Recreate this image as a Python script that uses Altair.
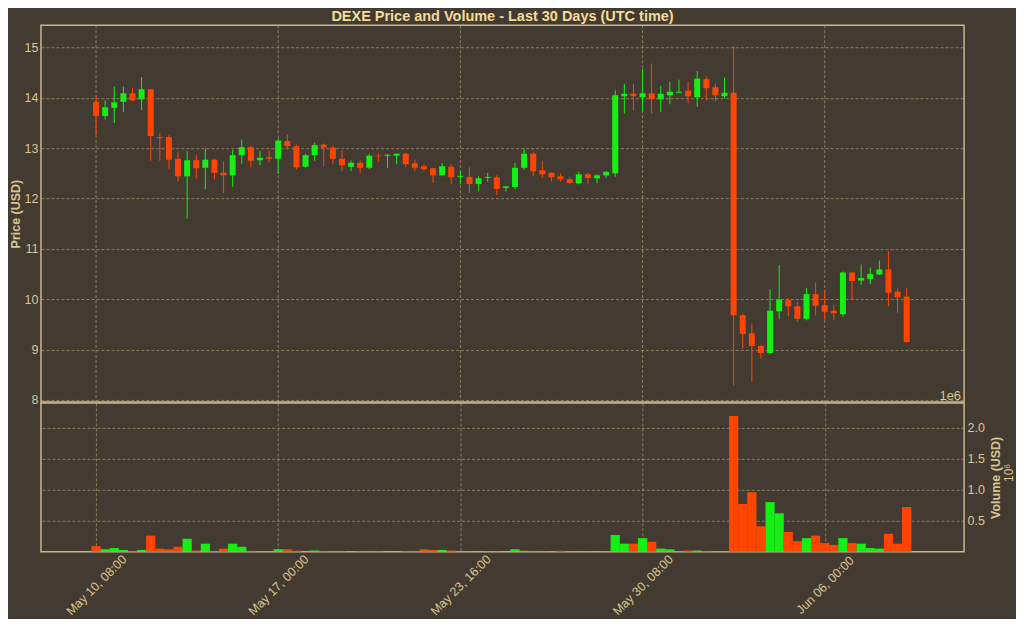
import altair as alt
import pandas as pd

# ---------------- data ----------------
start_time = "2024-05-10 08:00"
opens = [13.92, 13.64, 13.80, 13.92, 14.09, 13.97, 14.17, 13.22, 13.22, 12.79,
         12.44, 12.76, 12.61, 12.77, 12.51, 12.46, 12.86, 13.02, 12.76, 12.82,
         12.79, 13.14, 13.04, 12.63, 12.86, 13.07, 13.01, 12.79, 12.63, 12.71,
         12.61, 12.85, 12.85, 12.85, 12.89, 12.70, 12.64, 12.60, 12.46, 12.63,
         12.43, 12.43, 12.29, 12.41, 12.42, 12.21, 12.23, 12.61, 12.89, 12.56,
         12.51, 12.44, 12.38, 12.30, 12.48, 12.40, 12.46, 12.50, 14.03, 14.08,
         14.01, 14.09, 13.97, 14.05, 14.10, 14.14, 14.01, 14.37, 14.21, 14.03,
         14.10, 9.68, 9.32, 9.07, 8.93, 9.76, 9.98, 9.86, 9.61, 10.10,
         9.88, 9.77, 9.70, 10.53, 10.37, 10.40, 10.49, 10.59, 10.15, 10.05]
highs = [14.05, 13.95, 14.22, 14.22, 14.20, 14.41, 14.17, 13.30, 13.27, 12.93,
         12.94, 12.86, 12.99, 12.79, 12.74, 12.97, 13.17, 13.04, 12.94, 12.95,
         13.19, 13.27, 13.07, 12.89, 13.11, 13.09, 13.04, 12.95, 12.75, 12.75,
         12.89, 12.91, 12.88, 12.89, 12.91, 12.77, 12.68, 12.61, 12.70, 12.68,
         12.54, 12.62, 12.44, 12.51, 12.46, 12.25, 12.71, 12.99, 12.93, 12.74,
         12.51, 12.50, 12.42, 12.53, 12.51, 12.48, 12.54, 14.15, 14.28, 14.28,
         14.58, 14.68, 14.23, 14.32, 14.36, 14.32, 14.53, 14.42, 14.28, 14.40,
         15.03, 9.72, 9.50, 9.09, 10.20, 10.68, 10.02, 9.95, 10.22, 10.33,
         10.17, 9.88, 10.55, 10.53, 10.69, 10.63, 10.77, 10.95, 10.22, 10.22]
lows = [13.25, 13.57, 13.50, 13.72, 13.93, 13.75, 12.75, 12.75, 12.59, 12.34,
        11.60, 12.38, 12.18, 12.38, 12.11, 12.23, 12.69, 12.62, 12.66, 12.72,
        12.49, 12.97, 12.58, 12.61, 12.75, 12.64, 12.68, 12.54, 12.54, 12.51,
        12.58, 12.73, 12.61, 12.68, 12.62, 12.54, 12.54, 12.31, 12.44, 12.28,
        12.28, 12.11, 12.15, 12.33, 12.07, 12.14, 12.18, 12.57, 12.44, 12.41,
        12.34, 12.34, 12.29, 12.28, 12.29, 12.31, 12.41, 12.43, 13.69, 13.75,
        13.72, 13.69, 13.72, 13.87, 14.10, 13.89, 13.82, 13.95, 13.93, 13.99,
        8.29, 9.02, 8.36, 8.82, 8.92, 9.60, 9.66, 9.55, 9.58, 9.68,
        9.58, 9.58, 9.65, 10.00, 10.28, 10.30, 10.48, 9.86, 9.73, 9.13]
closes = [13.64, 13.81, 13.91, 14.09, 13.95, 14.17, 13.24, 13.20, 12.77, 12.44,
          12.76, 12.60, 12.77, 12.51, 12.46, 12.86, 13.02, 12.75, 12.81, 12.79,
          13.15, 13.04, 12.62, 12.86, 13.06, 13.01, 12.79, 12.66, 12.71, 12.61,
          12.85, 12.84, 12.87, 12.89, 12.68, 12.61, 12.58, 12.46, 12.64, 12.42,
          12.45, 12.29, 12.40, 12.43, 12.19, 12.24, 12.61, 12.89, 12.54, 12.48,
          12.42, 12.38, 12.31, 12.48, 12.41, 12.46, 12.53, 14.05, 14.08, 14.03,
          14.09, 13.97, 14.08, 14.12, 14.12, 14.03, 14.38, 14.19, 14.05, 14.10,
          9.68, 9.31, 9.07, 8.93, 9.77, 9.99, 9.86, 9.61, 10.10, 9.87,
          9.75, 9.72, 10.53, 10.36, 10.42, 10.50, 10.59, 10.13, 10.04, 9.15]
volumes = [90000, 40000, 60000, 30000, 10000, 30000, 260000, 50000, 40000, 80000,
           210000, 20000, 130000, 10000, 50000, 130000, 80000, 10000, 10000, 5000,
           40000, 40000, 15000, 5000, 20000, 10000, 8000, 8000, 6000, 8000,
           12000, 8000, 4000, 5000, 10000, 10000, 40000, 30000, 30000, 20000,
           10000, 5000, 6000, 10000, 6000, 4000, 40000, 15000, 8000, 6000,
           5000, 15000, 6000, 8000, 5000, 6000, 10000, 270000, 130000, 130000,
           220000, 160000, 50000, 40000, 12000, 20000, 20000, 10000, 6000, 10000,
           2190000, 770000, 960000, 410000, 800000, 620000, 320000, 170000, 220000, 260000,
           140000, 110000, 220000, 140000, 130000, 60000, 50000, 290000, 130000, 720000]
tick_times = ["2024-05-10 08:00", "2024-05-17 00:00", "2024-05-23 16:00",
              "2024-05-30 08:00", "2024-06-06 00:00"]
x_domain_times = ["2024-05-08 12:00", "2024-06-10 22:00"]
price_ticks = [8, 9, 10, 11, 12, 13, 14, 15]
volume_ticks = [500000, 1000000, 1500000, 2000000]

# ---------------- table ----------------
times = pd.date_range(pd.Timestamp(start_time, tz="UTC"), periods=len(opens), freq="8h")
df = pd.DataFrame({
    "t": times.strftime("%Y-%m-%dT%H:%M:%SZ"),
    "open": opens, "high": highs, "low": lows, "close": closes, "volume": volumes,
})
df["dir"] = ["up" if c >= o else "down" for o, c in zip(opens, closes)]


def ms(s):
    return int(pd.Timestamp(s, tz="UTC").value // 10**6)


tick_ms = [ms(s) for s in tick_times]
xdom = [ms(s) for s in x_domain_times]
ticks_df = pd.DataFrame({"t": tick_ms})

BG = "#433b31"
FRAME = "#c9b68a"
GRID = "#b4a27a"
TXT = "#d9c592"
TITLE = "#f3dc9c"
RED = "#ff4500"
GREEN = "#14ef14"

color = alt.Color("dir:N", scale=alt.Scale(domain=["up", "down"], range=[GREEN, RED]), legend=None)
xscale = alt.Scale(type="utc", domain=xdom)

PW = 924
PH = 377
VH = 149

# vertical grid of the price panel (drawn as rules at the date ticks)
vgrid = alt.Chart(ticks_df).mark_rule(
    color=GRID, strokeDash=[3, 2], strokeWidth=0.8, opacity=0.8
).encode(x=alt.X("t:T", scale=xscale, axis=None))

base = alt.Chart(df).encode(x=alt.X("t:T", scale=xscale, axis=None), color=color)
wick = base.mark_rule(strokeWidth=1).encode(
    y=alt.Y("low:Q", scale=alt.Scale(domain=[7.96, 15.44], nice=False, zero=False),
            axis=alt.Axis(values=price_ticks, title="Price (USD)", ticks=False, domain=False,
                          labelPadding=3, titlePadding=2, format="d")),
    y2="high:Q",
)
body = base.mark_bar(size=6).encode(y="open:Q", y2="close:Q")
offset_txt = alt.Chart(pd.DataFrame({"s": ["1e6"]})).mark_text(
    align="right", baseline="middle", fontSize=13, color=TXT
).encode(x=alt.value(PW - 3), y=alt.value(PH - 6), text="s:N")
price = alt.layer(vgrid, wick, body, offset_txt).properties(
    width=PW, height=PH,
    title=alt.Title("DEXE Price and Volume - Last 30 Days (UTC time)", fontSize=14.5,
                    fontWeight="bold", color=TITLE, anchor="middle", frame="group", offset=0),
)

vol_bars = alt.Chart(df).mark_bar(size=9.2).encode(
    x=alt.X("t:T", scale=xscale,
            axis=alt.Axis(values=tick_ms, format="%b %d, %H:%M", labelAngle=-45,
                          labelAlign="center", labelBaseline="middle", labelPadding=33,
                          ticks=False, domain=False, grid=True, title=None)),
    y=alt.Y("volume:Q", scale=alt.Scale(domain=[0, 2400000], nice=False),
            axis=alt.Axis(orient="right", values=volume_ticks, title="Volume (USD)",
                          titleAngle=270, titleBaseline="top", ticks=False, domain=False,
                          labelPadding=3, titlePadding=5,
                          labelExpr="format(datum.value / 1000000, '.1f')")),
    color=color,
)
exp_txt = alt.Chart(pd.DataFrame({"s": ["10⁶"]})).mark_text(
    align="center", baseline="middle", fontSize=12, color=TXT, angle=270
).encode(x=alt.value(PW + 45), y=alt.value(70), text="s:N")
volume = alt.layer(vol_bars, exp_txt).properties(width=PW, height=VH)

chart = alt.vconcat(price, volume, spacing=1, bounds="flush", padding=0,
                    background=BG).configure(
    font="Liberation Sans",
).configure_view(
    stroke=FRAME, strokeWidth=1.5, fill=BG,
).configure_axis(
    labelColor=TXT, titleColor=TXT, labelFontSize=12.5, titleFontSize=12.5,
    titleFontWeight="bold", gridColor=GRID, gridDash=[3, 2], gridWidth=0.8,
    gridOpacity=0.8, labelFont="Liberation Sans", titleFont="Liberation Sans",
)

chart.save("out.html", embed_options={"renderer": "svg", "actions": False})
